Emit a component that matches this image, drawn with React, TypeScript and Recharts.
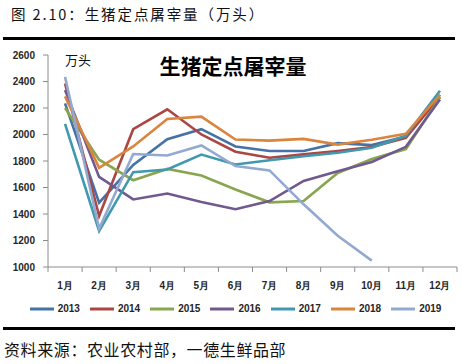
import React from 'react';
import { LineChart, Line, XAxis, YAxis, Legend } from 'recharts';

const months = ['1月', '2月', '3月', '4月', '5月', '6月', '7月', '8月', '9月', '10月', '11月', '12月'];

const y2013 = [2235, 1485, 1770, 1965, 2040, 1910, 1875, 1875, 1935, 1920, 1985, 2300];
const y2014 = [2385, 1385, 2040, 2190, 2000, 1870, 1825, 1850, 1875, 1905, 1975, 2285];
const y2015 = [2200, 1810, 1655, 1740, 1690, 1585, 1488, 1498, 1710, 1815, 1890, 2280];
const y2016 = [2335, 1680, 1510, 1555, 1490, 1436, 1498, 1650, 1722, 1792, 1907, 2265];
const y2017 = [2080, 1272, 1716, 1736, 1849, 1774, 1806, 1836, 1862, 1900, 1990, 2330];
const y2018 = [2288, 1748, 1910, 2117, 2135, 1962, 1954, 1967, 1924, 1960, 2005, 2300];
const y2019 = [2435, 1290, 1853, 1842, 1917, 1762, 1729, 1473, 1236, 1048, null, null];

const yTicks = [1000, 1200, 1400, 1600, 1800, 2000, 2200, 2400, 2600];
const xTicks = [0.5, 1.5, 2.5, 3.5, 4.5, 5.5, 6.5, 7.5, 8.5, 9.5, 10.5, 11.5, 12.5];

const series = [
  { key: 'y2013', name: '2013', color: '#4572A7', values: y2013 },
  { key: 'y2014', name: '2014', color: '#AA4643', values: y2014 },
  { key: 'y2015', name: '2015', color: '#89A54E', values: y2015 },
  { key: 'y2016', name: '2016', color: '#71588F', values: y2016 },
  { key: 'y2017', name: '2017', color: '#4198AF', values: y2017 },
  { key: 'y2018', name: '2018', color: '#DB843D', values: y2018 },
  { key: 'y2019', name: '2019', color: '#93A9CF', values: y2019 },
];

const data = months.map((label, i) => {
  const row: any = { m: i + 1, label };
  series.forEach(s => { row[s.key] = s.values[i]; });
  return row;
});

const axisColor = '#8c8c8c';
const tickFont = { fontSize: 10, fill: '#262626', fontFamily: 'Liberation Sans, Arial, sans-serif', fontWeight: 'bold' as const };

// labels sit in the middle of each month band, tick marks on the band edges
const MonthTick = (props: any) => {
  const { x, y, payload } = props;
  const idx = Math.round(payload.value + 0.5) - 1;
  if (idx < 0 || idx >= months.length) return null;
  return (
    <text x={x + 17} y={y + 15} textAnchor="middle" {...tickFont}>
      {months[idx]}
    </text>
  );
};

const App = () => {
  return (
    <div style={{ position: 'absolute', left: 0, top: 0, width: 462, height: 364, background: '#fff', fontFamily: '"Noto Sans CJK SC", sans-serif' }}>
      <div style={{ position: 'absolute', left: 11, top: 3, fontSize: 14.5, letterSpacing: 1.9, color: '#111' }}>
        图 2.10：生猪定点屠宰量（万头）
      </div>
      <div style={{ position: 'absolute', left: 3, top: 37, width: 452, height: 3, background: '#000' }} />

      <LineChart
        width={462}
        height={321}
        data={data}
        margin={{ top: 55, right: 5, left: 8, bottom: 0 }}
        style={{ position: 'absolute', left: 0, top: 0 }}
      >
        <XAxis
          dataKey="m"
          type="number"
          domain={[0.5, 12.5]}
          ticks={xTicks}
          interval={0}
          stroke={axisColor}
          tickSize={5}
          height={30}
          tick={<MonthTick />}
        />
        <YAxis
          domain={[1000, 2600]}
          ticks={yTicks}
          interval={0}
          width={40}
          stroke={axisColor}
          tickSize={5}
          tickMargin={8}
          tick={tickFont}
        />
        {series.map(s => (
          <Line
            key={s.key}
            dataKey={s.key}
            name={s.name}
            stroke={s.color}
            strokeWidth={2.6}
            dot={false}
            type="linear"
            isAnimationActive={false}
          />
        ))}
        <Legend
          verticalAlign="bottom"
          iconType="plainline"
          iconSize={24}
          wrapperStyle={{ fontSize: 10, fontWeight: 'bold', fontFamily: 'Liberation Sans, Arial, sans-serif', color: '#262626', paddingLeft: 8 }}
          formatter={(v: string) => <span style={{ color: '#262626' }}>{v}</span>}
        />
      </LineChart>

      <div style={{ position: 'absolute', left: 65, top: 50, fontSize: 13, color: '#111' }}>万头</div>
      <div style={{ position: 'absolute', left: 0, width: 466, textAlign: 'center', top: 50, fontSize: 21, fontWeight: 'bold', color: '#000' }}>
        生猪定点屠宰量
      </div>

      <div style={{ position: 'absolute', left: 3, top: 327, width: 452, height: 3, background: '#000' }} />
      <div style={{ position: 'absolute', left: 4, top: 337, fontSize: 16, letterSpacing: 0.6, color: '#111' }}>
        资料来源：农业农村部，一德生鲜品部
      </div>
    </div>
  );
};

export default App;
